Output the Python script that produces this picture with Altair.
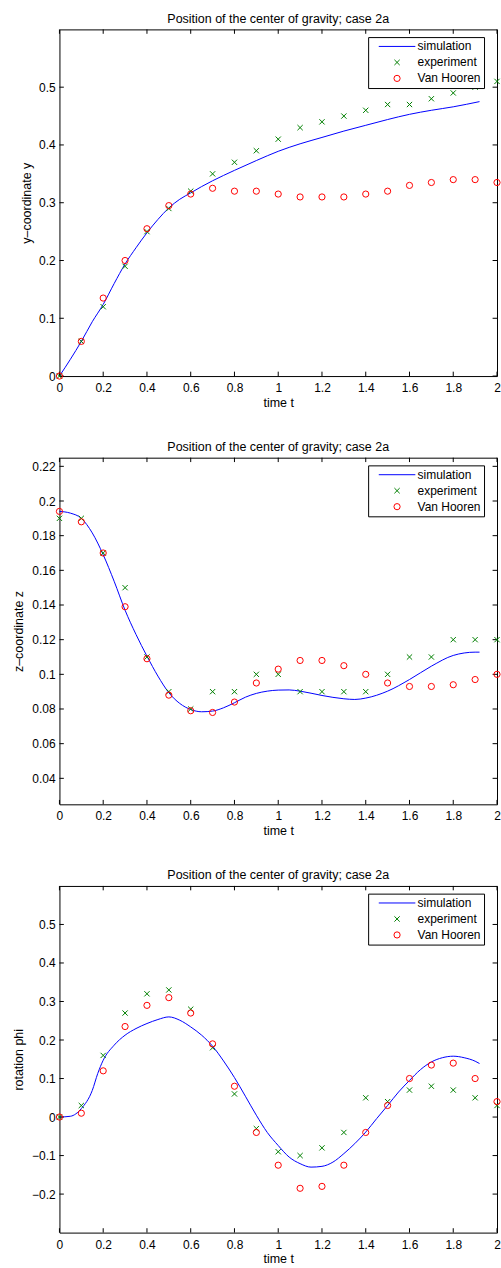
import altair as alt
import pandas as pd

# ---------------- data ----------------
SERIES = ["simulation", "experiment", "Van Hooren"]
COLORS = ["#0000ff", "#008000", "#ff0000"]

T_MARK = [0.0, 0.1, 0.2, 0.3, 0.4, 0.5, 0.6, 0.7, 0.8, 0.9, 1.0,
          1.1, 1.2, 1.3, 1.4, 1.5, 1.6, 1.7, 1.8, 1.9, 2.0]
X_TICKS = [0, 0.2, 0.4, 0.6, 0.8, 1.0, 1.2, 1.4, 1.6, 1.8, 2.0]

# panel 1: y-coordinate
sim1_t = [0, 0.05, 0.1, 0.15, 0.2, 0.25, 0.3, 0.35, 0.4, 0.45, 0.5, 0.55, 0.6, 0.65,
          0.7, 0.8, 0.9, 1.0, 1.1, 1.2, 1.3, 1.4, 1.5, 1.6, 1.7, 1.8, 1.92]
sim1_v = [0, 0.029, 0.06, 0.094, 0.124, 0.16, 0.194, 0.222, 0.248, 0.271, 0.291, 0.306,
          0.317, 0.328, 0.338, 0.356, 0.373, 0.389, 0.402, 0.413, 0.424, 0.434, 0.444,
          0.453, 0.46, 0.466, 0.475]
exp1 = [0, 0.06, 0.12, 0.19, 0.25, 0.29, 0.32, 0.35, 0.37, 0.39, 0.41,
        0.43, 0.44, 0.45, 0.46, 0.47, 0.47, 0.48, 0.49, 0.50, 0.51]
vh1 = [0, 0.06, 0.135, 0.20, 0.255, 0.295, 0.315, 0.325, 0.32, 0.32, 0.315,
       0.31, 0.31, 0.31, 0.315, 0.32, 0.33, 0.335, 0.34, 0.34, 0.335]
y1_ticks = [0, 0.1, 0.2, 0.3, 0.4, 0.5]

# panel 2: z-coordinate
sim2_t = [0, 0.05, 0.1, 0.15, 0.2, 0.25, 0.3, 0.35, 0.4, 0.45, 0.5, 0.55, 0.6, 0.65,
          0.7, 0.75, 0.8, 0.85, 0.9, 0.95, 1.0, 1.05, 1.1, 1.2, 1.3, 1.35, 1.4, 1.5,
          1.6, 1.7, 1.8, 1.9, 1.92]
sim2_v = [0.194, 0.193, 0.190, 0.1816, 0.169, 0.1537, 0.137, 0.123, 0.1105, 0.099,
          0.0894, 0.0832, 0.0797, 0.0784, 0.0788, 0.0807, 0.0836, 0.0868, 0.089,
          0.0903, 0.0909, 0.091, 0.0903, 0.0878, 0.0859, 0.0855, 0.0863, 0.0903,
          0.097, 0.1047, 0.1109, 0.1128, 0.1128]
exp2 = [0.19, 0.19, 0.17, 0.15, 0.11, 0.09, 0.08, 0.09, 0.09, 0.10, 0.10,
        0.09, 0.09, 0.09, 0.09, 0.10, 0.11, 0.11, 0.12, 0.12, 0.12]
vh2 = [0.194, 0.188, 0.17, 0.139, 0.109, 0.088, 0.079, 0.078, 0.084, 0.095, 0.103,
       0.108, 0.108, 0.105, 0.10, 0.095, 0.093, 0.093, 0.094, 0.097, 0.10]
y2_ticks = [0.04, 0.06, 0.08, 0.1, 0.12, 0.14, 0.16, 0.18, 0.2, 0.22]

# panel 3: rotation phi
sim3_t = [0, 0.05, 0.1, 0.15, 0.175, 0.2, 0.25, 0.3, 0.35, 0.4, 0.45, 0.5, 0.55, 0.6,
          0.65, 0.7, 0.75, 0.8, 0.85, 0.9, 0.95, 1.0, 1.05, 1.1, 1.15, 1.2, 1.25, 1.3,
          1.35, 1.4, 1.45, 1.5, 1.55, 1.6, 1.65, 1.7, 1.75, 1.8, 1.85, 1.9, 1.92]
sim3_v = [0, 0.002, 0.022, 0.069, 0.113, 0.1475, 0.1865, 0.2125, 0.2298, 0.2428,
          0.2532, 0.26, 0.2514, 0.234, 0.2125, 0.184, 0.1457, 0.1025, 0.054, 0.0047,
          -0.04, -0.074, -0.104, -0.121, -0.130, -0.128, -0.117, -0.095, -0.069,
          -0.039, -0.004, 0.030, 0.065, 0.095, 0.123, 0.143, 0.154, 0.158, 0.154,
          0.145, 0.139]
exp3 = [0, 0.03, 0.16, 0.27, 0.32, 0.33, 0.28, 0.18, 0.06, -0.03, -0.09,
        -0.10, -0.08, -0.04, 0.05, 0.04, 0.07, 0.08, 0.07, 0.05, 0.03]
vh3 = [0, 0.01, 0.12, 0.235, 0.29, 0.31, 0.27, 0.19, 0.08, -0.04, -0.125,
       -0.185, -0.18, -0.125, -0.04, 0.03, 0.10, 0.135, 0.14, 0.10, 0.04]
y3_ticks = [-0.2, -0.1, 0, 0.1, 0.2, 0.3, 0.4, 0.5]

TITLE = "Position of the center of gravity; case 2a"

# ---------------- styling ----------------
FONT = "Liberation Sans"
SHAPES = ["M-5.9,0L5.9,0",
          "M-0.85,-0.85L0.85,0.85M-0.85,0.85L0.85,-0.85",
          "circle"]
W, H = 438, 347
TL = 4.4  # inward tick length
PAD_LABEL = "\u00a0\u00a0\u00a0\u00a0"


def make_legend():
    return alt.Legend(
        title=None, orient="none", legendX=309, legendY=7.7,
        strokeColor="black", fillColor="white", padding=3.35,
        rowPadding=4, symbolSize=38.5, symbolStrokeWidth=1,
        symbolOffset=19.6, labelOffset=14.5, labelFontSize=12,
        labelFont=FONT, labelColor="black",
        labelExpr="datum.label + '" + PAD_LABEL + "'",
    )


def panel(sim_t, sim_v, exp_v, vh_v, ydom, yticks, ytitle, ytpad):
    sim = pd.DataFrame({"t": sim_t, "v": sim_v})
    pts = pd.DataFrame({
        "t": T_MARK + T_MARK,
        "v": exp_v + vh_v,
        "series": ["experiment"] * len(T_MARK) + ["Van Hooren"] * len(T_MARK),
    })
    xt = pd.DataFrame({"t": X_TICKS})
    yt = pd.DataFrame({"v": yticks})
    xs = alt.Scale(domain=[0, 2], nice=False, zero=False)
    ys = alt.Scale(domain=ydom, nice=False, zero=False)
    cs = alt.Scale(domain=SERIES, range=COLORS)
    ss = alt.Scale(domain=SERIES, range=SHAPES)

    common = dict(ticks=False, domain=False, grid=False, labelFontSize=12,
                  labelFont=FONT, labelColor="black", format="~g",
                  labelFlush=False, labelOverlap=False, labelBound=False,
                  titleFontSize=12.5, titleFont=FONT, titleColor="black",
                  titleFontWeight="normal")
    xaxis = alt.Axis(values=X_TICKS, title="time t", labelPadding=6.5,
                     titlePadding=2.6, **common)
    yaxis = alt.Axis(values=yticks, title=ytitle, labelPadding=4.3,
                     titlePadding=ytpad, **common)

    def X():
        return alt.X("t:Q", scale=xs, axis=xaxis)

    def Y():
        return alt.Y("v:Q", scale=ys, axis=yaxis)

    line = alt.Chart(sim).mark_line(strokeWidth=1, interpolate="monotone",
                                    color=COLORS[0]).encode(x=X(), y=Y())
    tick_style = dict(color="black", strokeWidth=1)
    xb = alt.Chart(xt).mark_rule(**tick_style).encode(
        x=X(), y=alt.value(H), y2=alt.value(H - TL))
    xtop = alt.Chart(xt).mark_rule(**tick_style).encode(
        x=X(), y=alt.value(0), y2=alt.value(TL))
    yl = alt.Chart(yt).mark_rule(**tick_style).encode(
        y=Y(), x=alt.value(0), x2=alt.value(TL))
    yr = alt.Chart(yt).mark_rule(**tick_style).encode(
        y=Y(), x=alt.value(W), x2=alt.value(W - TL))

    marks = alt.Chart(pts).mark_point(filled=False, size=38.5, strokeWidth=1,
                                      opacity=1).encode(
        x=X(), y=Y(),
        color=alt.Color("series:N", scale=cs, legend=make_legend()),
        shape=alt.Shape("series:N", scale=ss, legend=make_legend()),
    )
    return alt.layer(line, xb, xtop, yl, yr, marks).properties(
        width=W, height=H,
        title=alt.TitleParams(TITLE, fontSize=12.5, font=FONT, fontWeight="normal",
                              color="black", anchor="middle", baseline="alphabetic",
                              offset=-6.3),
    )


p1 = panel(sim1_t, sim1_v, exp1, vh1, [0, 0.6], y1_ticks, "y\u2013coordinate y", 5)
p2 = panel(sim2_t, sim2_v, exp2, vh2, [0.025, 0.225], y2_ticks, "z\u2013coordinate z", 6.5)
p3 = panel(sim3_t, sim3_v, exp3, vh3, [-0.3, 0.6], y3_ticks, "rotation phi", 6.3)

chart = alt.vconcat(p1, p2, p3, spacing=29.7).resolve_scale(
    color="independent", shape="independent"
).resolve_legend(
    color="independent", shape="independent"
).properties(
    padding={"left": 11.5, "top": 10.8, "right": -2, "bottom": 0},
    background="white",
).configure_view(
    stroke="black", strokeWidth=1
)

chart.save("out.html", embed_options={"renderer": "svg", "actions": False})
